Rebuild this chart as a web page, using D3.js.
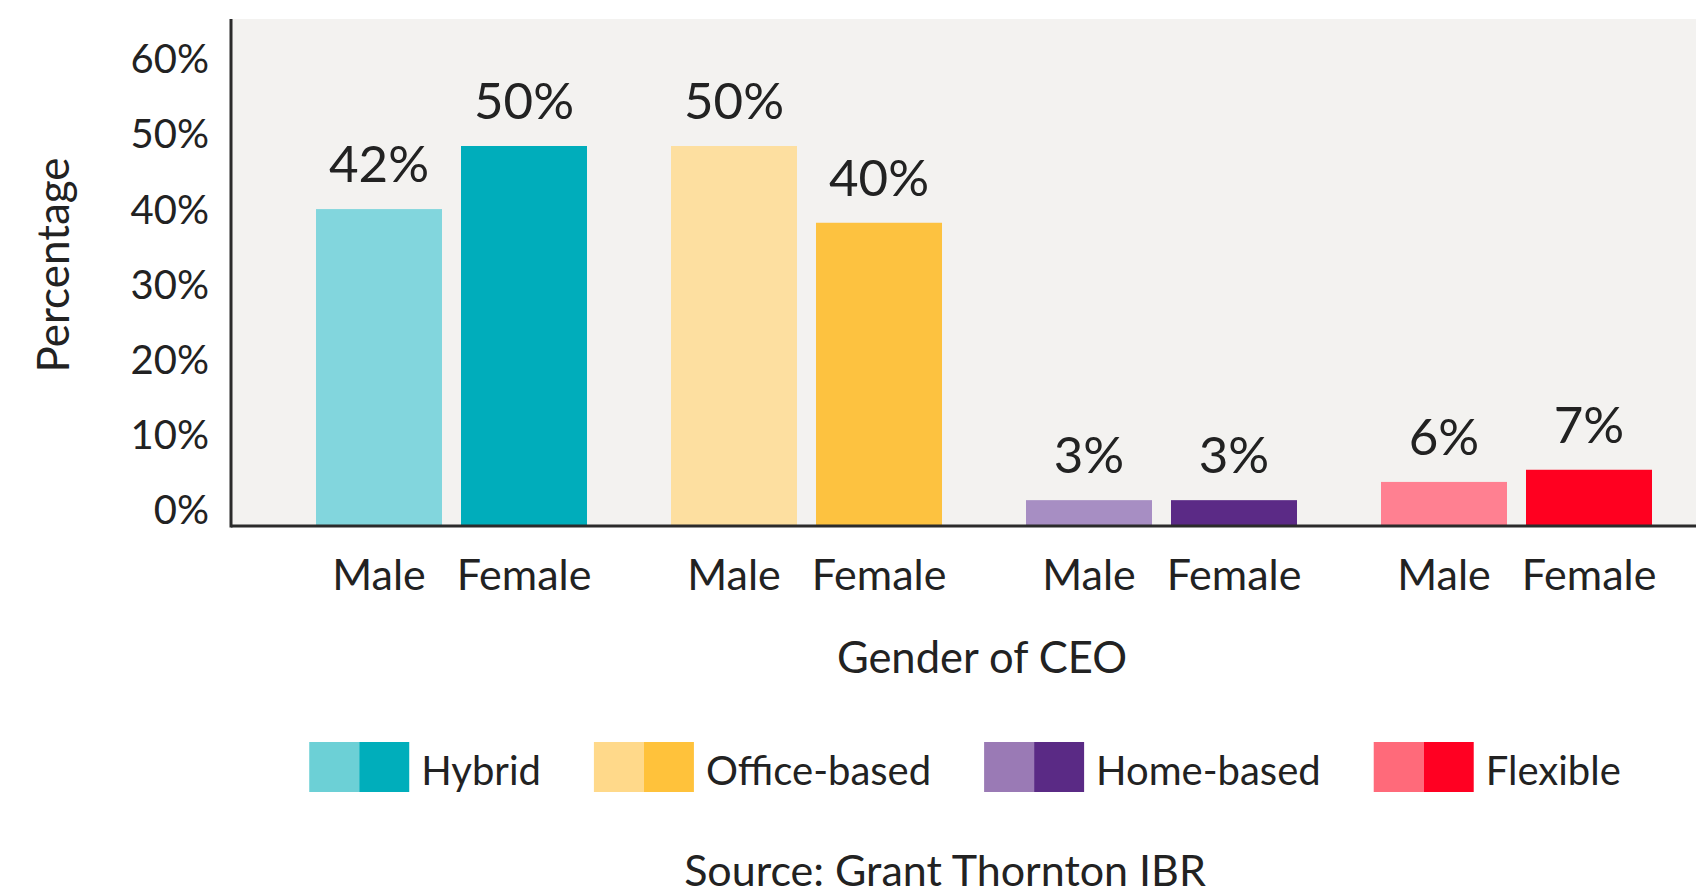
<!DOCTYPE html>
<html>
<head>
<meta charset="utf-8">
<script src="https://cdn.jsdelivr.net/npm/d3@7"></script>
<style>
  body { margin: 0; background: #fff; }
  svg text { font-family: Lato, "Noto Sans", sans-serif; fill: #222; }
</style>
</head>
<body>
<div class="chart"></div>
<script>
var workModels = ['Hybrid', 'Office-based', 'Home-based', 'Flexible'];
var genders = ['Male', 'Female'];
var maleValues = [41.7, 50, 3.4, 5.8];
var femaleValues = [50, 39.9, 3.4, 7.4];
var yTicks = [0, 10, 20, 30, 40, 50, 60];
var barColors = [['#82d6dd', '#00adbb'], ['#fddfa0', '#fdc240'], ['#a78ec3', '#5b2a86'], ['#ff8091', '#ff0020']];
var legendColors = [['#6cd0d6', '#00aebb'], ['#ffd98a', '#ffc23b'], ['#9a7ab5', '#5a2a85'], ['#ff6a7a', '#ff0022']];

var width = 1696, height = 895;
var plotLeft = 231, plotTop = 19, plotRight = 1696, baseline = 526;

var svg = d3.select('.chart').append('svg')
  .attr('width', width)
  .attr('height', height);

// plot background
svg.append('rect')
  .attr('x', plotLeft).attr('y', plotTop)
  .attr('width', plotRight - plotLeft).attr('height', baseline - plotTop)
  .attr('fill', '#f3f2f0');

var rows = [];
workModels.forEach(function(m, i) {
  rows.push({model: m, gender: 'Male', value: maleValues[i], color: barColors[i][0]});
  rows.push({model: m, gender: 'Female', value: femaleValues[i], color: barColors[i][1]});
});

var x0 = d3.scaleBand()
  .domain(workModels)
  .range([274, 1694])
  .paddingInner(0.2366)
  .paddingOuter(0.1183);

var x1 = d3.scaleBand()
  .domain(genders)
  .range([0, x0.bandwidth()])
  .paddingInner(0.131);

var y = d3.scaleLinear()
  .domain([0, 60])
  .range([baseline, baseline - 456]);

// the tick labels sit a little above their values and slightly closer together
var yLabels = y.copy().range([baseline - 15, baseline - 15 - 451]);

function barX(d) { return x0(d.model) + x1(d.gender); }

svg.append('g').attr('class', 'bars')
  .selectAll('rect')
  .data(rows)
  .enter().append('rect')
    .attr('x', barX)
    .attr('y', function(d) { return y(d.value); })
    .attr('width', x1.bandwidth())
    .attr('height', function(d) { return baseline - y(d.value); })
    .attr('fill', function(d) { return d.color; });

// value labels
svg.append('g').attr('class', 'values')
  .selectAll('text')
  .data(rows)
  .enter().append('text')
    .attr('x', function(d) { return barX(d) + x1.bandwidth() / 2; })
    .attr('y', function(d) { return y(d.value) - 27; })
    .attr('text-anchor', 'middle')
    .style('font-size', '51px')
    .text(function(d) { return Math.round(d.value) + '%'; });

// gender labels under bars
svg.append('g').attr('class', 'genders')
  .selectAll('text')
  .data(rows)
  .enter().append('text')
    .attr('x', function(d) { return barX(d) + x1.bandwidth() / 2; })
    .attr('y', 590)
    .attr('text-anchor', 'middle')
    .style('font-size', '43px')
    .text(function(d) { return d.gender; });

// y axis labels
var yAxis = d3.axisLeft(yLabels)
  .tickValues(yTicks)
  .tickSize(0)
  .tickPadding(22)
  .tickFormat(function(d) { return d + '%'; });

var gy = svg.append('g')
  .attr('transform', 'translate(' + plotLeft + ',0)')
  .call(yAxis);
gy.select('.domain').remove();
gy.selectAll('text')
  .style('font-size', '40px')
  .attr('fill', '#222');

// axis lines
svg.append('line')
  .attr('x1', plotLeft).attr('x2', plotLeft)
  .attr('y1', plotTop).attr('y2', baseline + 1.5)
  .attr('stroke', '#2b2b2b').attr('stroke-width', 3);
svg.append('line')
  .attr('x1', plotLeft).attr('x2', plotRight)
  .attr('y1', baseline).attr('y2', baseline)
  .attr('stroke', '#2b2b2b').attr('stroke-width', 3);

// titles
svg.append('text')
  .attr('transform', 'translate(69,265) rotate(-90)')
  .attr('text-anchor', 'middle')
  .style('font-size', '44px')
  .text('Percentage');

svg.append('text')
  .attr('x', 982).attr('y', 673)
  .attr('text-anchor', 'middle')
  .style('font-size', '43.5px')
  .text('Gender of CEO');

svg.append('text')
  .attr('x', 945).attr('y', 886)
  .attr('text-anchor', 'middle')
  .style('font-size', '43px')
  .text('Source: Grant Thornton IBR');

// legend, centred over plot area
var legend = svg.append('g').attr('class', 'legend');
var items = legend.selectAll('g')
  .data(workModels)
  .enter().append('g');
items.append('rect')
  .attr('x', 0).attr('y', 742).attr('width', 50).attr('height', 50)
  .attr('fill', function(d, i) { return legendColors[i][0]; });
items.append('rect')
  .attr('x', 50).attr('y', 742).attr('width', 50).attr('height', 50)
  .attr('fill', function(d, i) { return legendColors[i][1]; });
items.append('text')
  .attr('x', 112).attr('y', 785)
  .style('font-size', '40px')
  .text(function(d) { return d; });

var gap = 53, offset = 0, positions = [];
items.each(function() {
  var w = 112 + d3.select(this).select('text').node().getComputedTextLength();
  positions.push(offset);
  offset += w + gap;
});
var total = offset - gap;
var start = 965 - total / 2;
items.attr('transform', function(d, i) { return 'translate(' + (start + positions[i]) + ',0)'; });
</script>
</body>
</html>
